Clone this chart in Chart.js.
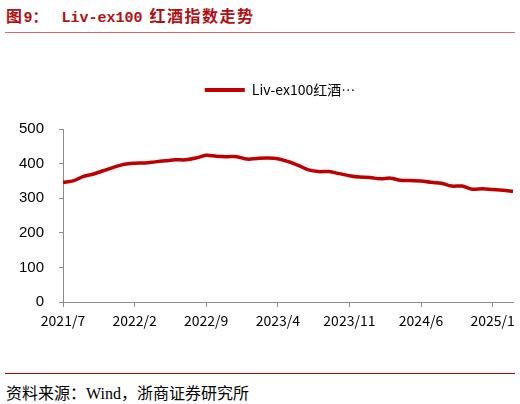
<!DOCTYPE html>
<html>
<head>
<meta charset="utf-8">
<script src="https://cdn.jsdelivr.net/npm/chart.js@4.4.0/dist/chart.umd.min.js"></script>
<style>
  body { margin: 0; width: 520px; height: 404px; background: #fff; position: relative; overflow: hidden; }
  #title { position: absolute; left: 6px; top: 3px; font: bold 15px "Liberation Mono", "Noto Sans CJK SC", sans-serif; color: #b20f14; white-space: pre; }
  #title .cn { font-family: "Noto Sans CJK SC", sans-serif; font-size: 16px; letter-spacing: 1.5px; }
  #title .en { margin-left: 14px; margin-right: 7px; }
  #ruleTop { position: absolute; left: 5px; width: 510px; top: 32px; height: 1px; background: #d66a6a; }
  #ruleBottom { position: absolute; left: 5px; width: 510px; top: 373px; height: 1px; background: #c00000; }
  #source { position: absolute; left: 6px; top: 380px; font: 16px "Liberation Serif", "Noto Sans CJK SC", serif; color: #000; white-space: pre; }
  #box { position: absolute; left: 0; top: 40px; width: 520px; height: 320px; }
</style>
</head>
<body>
<div id="title"><span class="cn">图</span>9：<span class="en">Liv-ex100</span><span class="cn">红酒指数走势</span></div>
<div id="ruleTop"></div>
<div id="box"><canvas id="wineChart"></canvas></div>
<div id="ruleBottom"></div>
<div id="source">资料来源：Wind，浙商证券研究所</div>

<script>
// monthly, 2021/7 .. 2025/3
const months = [
  '2021/7', '2021/8', '2021/9', '2021/10', '2021/11', '2021/12',
  '2022/1', '2022/2', '2022/3', '2022/4', '2022/5', '2022/6',
  '2022/7', '2022/8', '2022/9', '2022/10', '2022/11', '2022/12',
  '2023/1', '2023/2', '2023/3', '2023/4', '2023/5', '2023/6',
  '2023/7', '2023/8', '2023/9', '2023/10', '2023/11', '2023/12',
  '2024/1', '2024/2', '2024/3', '2024/4', '2024/5', '2024/6',
  '2024/7', '2024/8', '2024/9', '2024/10', '2024/11', '2024/12',
  '2025/1', '2025/2', '2025/3'
];
const livex100 = [
  346, 350, 363, 370, 380, 390, 398, 401, 402, 405, 408, 411,
  411, 416, 424, 421, 420, 420, 413, 415, 416, 414, 406, 395,
  382, 377, 377, 371, 365, 361, 360, 356, 358, 352, 351, 350,
  346, 343, 335, 335, 326, 327, 325, 323, 320
];
const yTicks = [0, 100, 200, 300, 400, 500];
const seriesName = 'Liv-ex100红酒指数';
const legendText = 'Liv-ex100红酒…';
const labelStep = 7;

const lineRed = '#c00000';
const axisGrey = '#8c8c8c';

// legend sits a bit right of the canvas centre in the original
const legendShift = {
  id: 'legendShift',
  afterLayout(chart) {
    if (chart.legend) chart.legend.left = 45;
  }
};

const ctx = document.getElementById('wineChart').getContext('2d');
new Chart(ctx, {
  type: 'line',
  data: {
    labels: months,
    datasets: [{
      label: seriesName,
      data: livex100,
      borderColor: lineRed,
      backgroundColor: lineRed,
      borderWidth: 3.5,
      pointRadius: 0,
      tension: 0.35,
      fill: false
    }]
  },
  plugins: [legendShift],
  options: {
    responsive: true,
    maintainAspectRatio: false,
    animation: false,
    layout: { padding: { left: 0, right: 5, top: 22, bottom: 0 } },
    plugins: {
      tooltip: { enabled: false },
      legend: {
        position: 'top',
        weight: 1800,
        labels: {
          boxWidth: 40,
          boxHeight: 4,
          padding: 21,
          color: '#000',
          font: { family: '"Noto Sans CJK SC", sans-serif', size: 14 },
          generateLabels: (chart) => chart.data.datasets.map((ds, i) => ({
            text: legendText,
            fillStyle: ds.borderColor,
            strokeStyle: ds.borderColor,
            lineWidth: 0,
            hidden: false,
            datasetIndex: i
          }))
        }
      },
      // empty subtitle used as a gap between legend and plot
      subtitle: {
        display: true,
        text: '',
        font: { size: 10 },
        padding: { top: 0, bottom: 10 }
      }
    },
    scales: {
      x: {
        offset: false,
        afterFit: (scale) => { scale.height = 58; },
        grid: { display: true, drawOnChartArea: false, drawTicks: true, tickLength: 5, color: axisGrey },
        border: { display: true, color: axisGrey, width: 1 },
        ticks: {
          autoSkip: false,
          maxRotation: 0,
          padding: 5,
          color: '#000',
          font: { family: '"Noto Sans CJK SC", sans-serif', size: 14 },
          callback: (val, i) => (i % labelStep === 0 ? months[i] : null)
        }
      },
      y: {
        min: yTicks[0],
        max: yTicks[yTicks.length - 1],
        afterFit: (scale) => { scale.width = 63; },
        afterBuildTicks: (scale) => { scale.ticks = yTicks.map(v => ({ value: v })); },
        grid: { display: true, drawOnChartArea: false, drawTicks: true, tickLength: 4, color: axisGrey },
        border: { display: true, color: axisGrey, width: 1 },
        ticks: {
          padding: 15,
          color: '#000',
          font: { family: '"Liberation Sans", Arial, sans-serif', size: 15 }
        }
      }
    }
  }
});
</script>
</body>
</html>
